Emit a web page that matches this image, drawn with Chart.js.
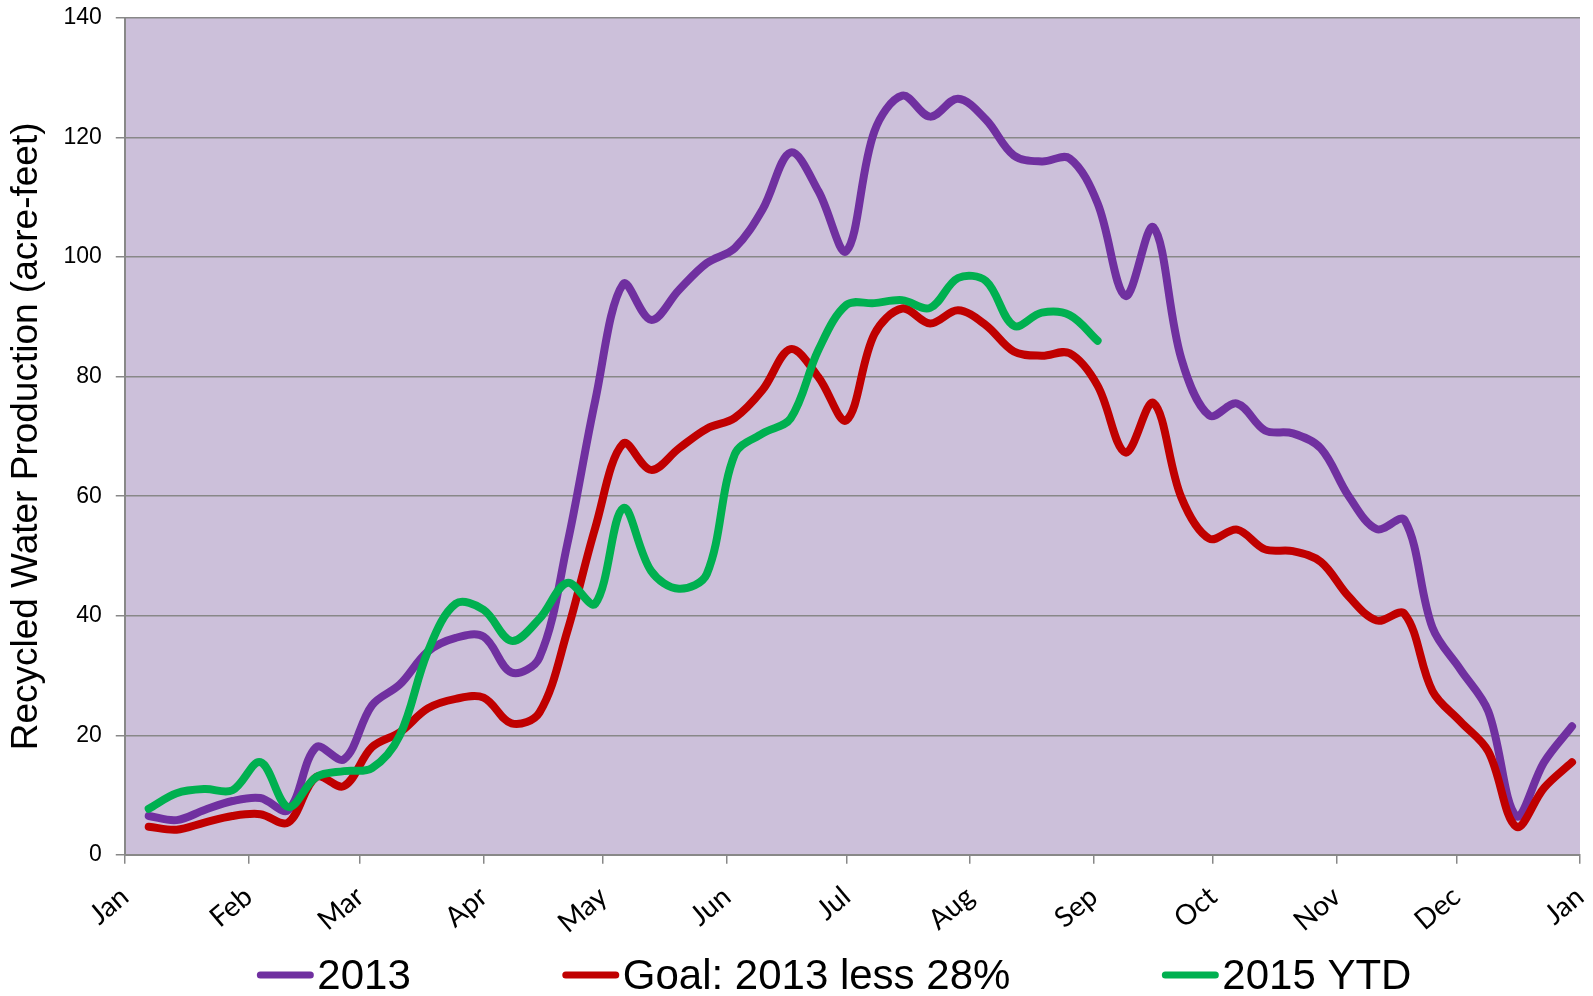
<!DOCTYPE html>
<html>
<head>
<meta charset="utf-8">
<script src="https://cdn.jsdelivr.net/npm/chart.js@4"></script>
<style>
  body { margin: 0; background: #fff; }
  #wrap { width: 1593px; height: 996px; position: relative; }
</style>
</head>
<body>
<div id="wrap"><canvas id="myChart"></canvas></div>
<script>
// day of year for each weekly reading
var weekDays = [6, 13, 20, 27, 34, 41, 48, 55, 62, 69, 76, 83, 90, 97, 104, 111, 118, 125, 132, 139,
  146, 153, 160, 167, 174, 181, 188, 195, 202, 209, 216, 223, 230, 237, 244, 251, 258, 265, 272, 279,
  286, 293, 300, 307, 314, 321, 328, 335, 342, 349, 356, 363];

var y2013 = [6.5, 5.8, 7.5, 9, 9.5, 7.5, 18, 16, 25, 28.5, 34, 36.3, 36.5, 30.5, 33, 52, 76, 95.5, 89.5, 94.5,
  99, 101.5, 108, 117.5, 111, 101, 121, 127, 123.5, 126.5, 123, 117, 116, 116.5, 109, 93.5, 105, 83, 73.5, 75.5,
  71, 70.5, 68, 60, 54.5, 56, 38, 31, 24, 6.5, 15.5, 21.5];

var goal = [4.7, 4.2, 5.4, 6.5, 6.8, 5.4, 13, 11.5, 18, 20.5, 24.5, 26.1, 26.3, 22, 23.8, 37.4, 54.7, 68.8, 64.4, 68,
  71.3, 73.1, 77.8, 84.6, 79.9, 72.7, 87.1, 91.4, 88.9, 91.1, 88.6, 84.2, 83.5, 83.9, 78.5, 67.3, 75.6, 59.8, 52.9, 54.4,
  51.1, 50.8, 49, 43.2, 39.2, 40.3, 27.4, 22.3, 17.3, 4.7, 11.2, 15.5];

var ytd2015 = [7.7, 10.3, 11, 10.8, 15.5, 8, 13, 14, 14.5, 20, 34, 42, 41, 35.8, 39.5, 45.5, 42, 58, 47.5, 44.5,
  47, 67, 70.5, 73, 84.5, 92, 92.3, 92.8, 91.5, 96.5, 96, 88.5, 90.7, 90.3, 86];

var months = ['Jan', 'Feb', 'Mar', 'Apr', 'May', 'Jun', 'Jul', 'Aug', 'Sep', 'Oct', 'Nov', 'Dec', 'Jan'];
var monthDays = [0, 31, 59, 90, 120, 151, 181, 212, 243, 273, 304, 334, 365];

function pts(ys) {
  return ys.map(function (v, i) { return { x: weekDays[i], y: v }; });
}

var plotBg = {
  id: 'plotBg',
  beforeDraw: function (chart) {
    var a = chart.chartArea, c = chart.ctx;
    c.save();
    c.fillStyle = '#fff';
    c.fillRect(0, 0, chart.width, chart.height);
    c.fillStyle = '#CCC0DA';
    c.fillRect(a.left, a.top, a.right - a.left, a.bottom - a.top);
    c.restore();
  }
};

// legend drawn by hand so the line sample sits tight against its text
var bottomLegend = {
  id: 'bottomLegend',
  afterDraw: function (chart) {
    var c = chart.ctx;
    var items = chart.data.datasets;
    c.save();
    c.font = '42px "Liberation Sans", Arial, sans-serif';
    c.textBaseline = 'middle';
    var sample = 56, gap = 4, between = 152;
    var total = 0;
    items.forEach(function (d, i) {
      total += sample + gap + c.measureText(d.label).width + (i ? between : 0);
    });
    var mid = (chart.chartArea.left + chart.chartArea.right) / 2 - 18;
    var x = mid - total / 2, y = 975;
    items.forEach(function (d) {
      c.strokeStyle = d.borderColor;
      c.lineWidth = 7;
      c.lineCap = 'round';
      c.beginPath();
      c.moveTo(x + 3, y);
      c.lineTo(x + sample - 3, y);
      c.stroke();
      c.fillStyle = '#000';
      c.fillText(d.label, x + sample + gap, y + 2);
      x += sample + gap + c.measureText(d.label).width + between;
    });
    c.restore();
  }
};

var ctx = document.getElementById('myChart');
var myChart = new Chart(ctx, {
  type: 'line',
  data: {
    datasets: [{
      label: '2013',
      data: pts(y2013),
      borderColor: '#7030A0',
      order: 3
    }, {
      label: 'Goal: 2013 less 28%',
      data: pts(goal),
      borderColor: '#C00000',
      order: 2
    }, {
      label: '2015 YTD',
      data: pts(ytd2015),
      borderColor: '#00B050',
      order: 1
    }]
  },
  options: {
    responsive: true,
    maintainAspectRatio: false,
    animation: false,
    layout: { padding: { left: 4, top: 18, right: 13, bottom: 40 } },
    elements: {
      line: { borderWidth: 8, tension: 0.35, borderCapStyle: 'round', borderJoinStyle: 'round' },
      point: { radius: 0 }
    },
    plugins: {
      legend: { display: false },
      tooltip: { enabled: false }
    },
    scales: {
      x: {
        type: 'linear',
        min: 0,
        max: 365,
        afterBuildTicks: function (scale) {
          scale.ticks = monthDays.map(function (d) { return { value: d }; });
        },
        afterFit: function (scale) {
          scale.paddingRight = 0;
          scale.paddingLeft = 0;
        },
        ticks: {
          autoSkip: false,
          minRotation: 40,
          maxRotation: 40,
          padding: 16,
          color: '#000',
          font: { family: 'Lato, "Open Sans", sans-serif', size: 28 },
          callback: function (v, i) { return months[i]; }
        },
        grid: { drawOnChartArea: false, color: '#888', lineWidth: 1.5, tickLength: 9 },
        border: { color: '#888', width: 2 }
      },
      y: {
        min: 0,
        max: 140,
        afterFit: function (scale) {
          scale.paddingTop = 0;
          scale.paddingBottom = 0;
        },
        ticks: {
          stepSize: 20,
          padding: 14,
          color: '#000',
          font: { family: '"Liberation Sans", Arial, sans-serif', size: 23 }
        },
        grid: { color: '#888', lineWidth: 1.5, tickLength: 9 },
        border: { color: '#888', width: 2 },
        title: {
          display: true,
          text: 'Recycled Water Production (acre-feet)',
          color: '#000',
          font: { family: '"Liberation Sans", Arial, sans-serif', size: 37 },
          padding: { top: 1, bottom: 0 }
        }
      }
    }
  },
  plugins: [plotBg, bottomLegend]
});
</script>
</body>
</html>
